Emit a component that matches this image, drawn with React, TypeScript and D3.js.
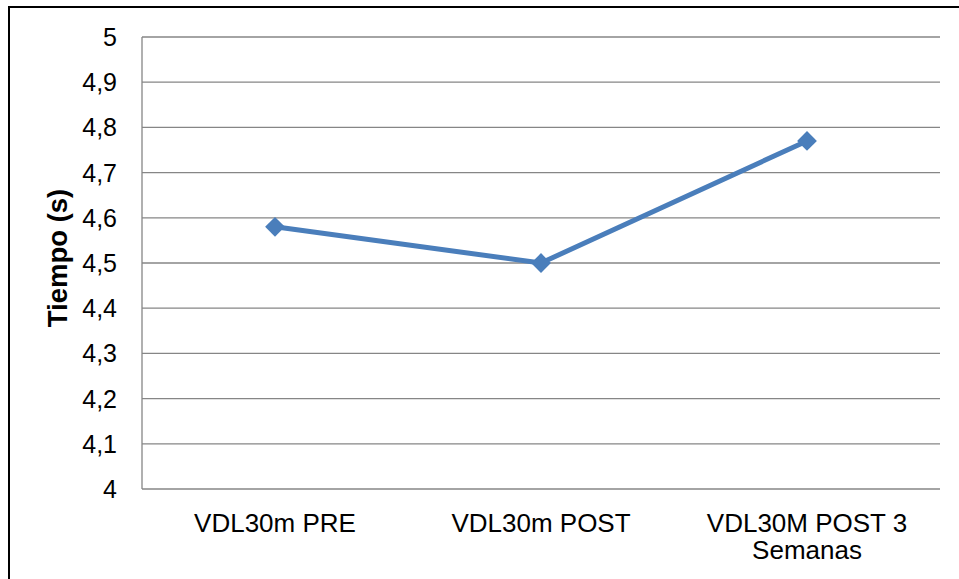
import React, { useEffect, useRef } from "react";
import * as d3 from "d3";

const categories = ["VDL30m PRE", "VDL30m POST", "VDL30M POST 3 Semanas"];
const categoryLines = [["VDL30m PRE"], ["VDL30m POST"], ["VDL30M POST 3", "Semanas"]];
const tiempo = [4.58, 4.5, 4.77];
const yTicks = [4, 4.1, 4.2, 4.3, 4.4, 4.5, 4.6, 4.7, 4.8, 4.9, 5];

export default function App() {
  const ref = useRef<SVGSVGElement>(null);

  useEffect(() => {
    const svg = d3.select(ref.current);
    svg.selectAll("*").remove();

    const left = 142, right = 940, top = 37, bottom = 489;
    const font = "'Liberation Sans', Arial, sans-serif";

    // outer frame, runs off the right/bottom edge like the original crop
    svg.append("rect")
      .attr("x", 9).attr("y", 7)
      .attr("width", 1000).attr("height", 700)
      .attr("fill", "#fff")
      .attr("stroke", "#000")
      .attr("stroke-width", 2);

    const x = d3.scaleBand().domain(categories).range([left, right]);
    const y = d3.scaleLinear().domain([4, 5]).range([bottom, top]);

    // gridlines
    svg.append("g")
      .selectAll("line")
      .data(yTicks)
      .enter()
      .append("line")
      .attr("x1", left).attr("x2", right)
      .attr("y1", (d) => y(d)).attr("y2", (d) => y(d))
      .attr("stroke", "#868686")
      .attr("stroke-width", 1.3);

    // left axis line
    svg.append("line")
      .attr("x1", left).attr("x2", left)
      .attr("y1", top).attr("y2", bottom)
      .attr("stroke", "#868686")
      .attr("stroke-width", 1.3);

    // y tick labels
    svg.append("g")
      .selectAll("text")
      .data(yTicks)
      .enter()
      .append("text")
      .attr("x", 117)
      .attr("y", (d) => y(d))
      .attr("dy", "0.36em")
      .attr("text-anchor", "end")
      .style("font-family", font)
      .style("font-size", "25px")
      .attr("fill", "#000")
      .text((d) => d3.format(".1f")(d).replace(".", ",").replace(/^(\d),0$/, "$1"));

    // x labels
    const xl = svg.append("g")
      .selectAll("text")
      .data(categories)
      .enter()
      .append("text")
      .attr("x", (d) => x(d)! + x.bandwidth() / 2)
      .attr("y", 532)
      .attr("text-anchor", "middle")
      .style("font-family", font)
      .style("font-size", "26px")
      .attr("fill", "#000");
    xl.each(function (d, i) {
      const t = d3.select(this);
      categoryLines[i].forEach((ln, j) => {
        t.append("tspan")
          .attr("x", x(d)! + x.bandwidth() / 2)
          .attr("dy", j === 0 ? 0 : 27)
          .text(ln);
      });
    });

    // axis title
    svg.append("text")
      .attr("transform", "translate(67," + 258 + ") rotate(-90)")
      .attr("text-anchor", "middle")
      .style("font-family", font)
      .style("font-size", "27.5px")
      .style("font-weight", "bold")
      .attr("fill", "#000")
      .text("Tiempo (s)");

    const pts: [number, number][] = categories.map((c, i) => [x(c)! + x.bandwidth() / 2, y(tiempo[i])]);

    svg.append("path")
      .attr("d", d3.line()(pts))
      .attr("fill", "none")
      .attr("stroke", "#4A7EBB")
      .attr("stroke-width", 5)
      .attr("stroke-linejoin", "round");

    svg.append("g")
      .selectAll("path")
      .data(pts)
      .enter()
      .append("path")
      .attr("d", d3.symbol(d3.symbolDiamond2, 250)() as string)
      .attr("transform", (d) => "translate(" + d[0] + "," + d[1] + ")")
      .attr("fill", "#4A7EBB");
  }, []);

  return (
    <svg ref={ref} width={959} height={579}
      style={{ position: "absolute", left: 0, top: 0, background: "#fff" }} />
  );
}
